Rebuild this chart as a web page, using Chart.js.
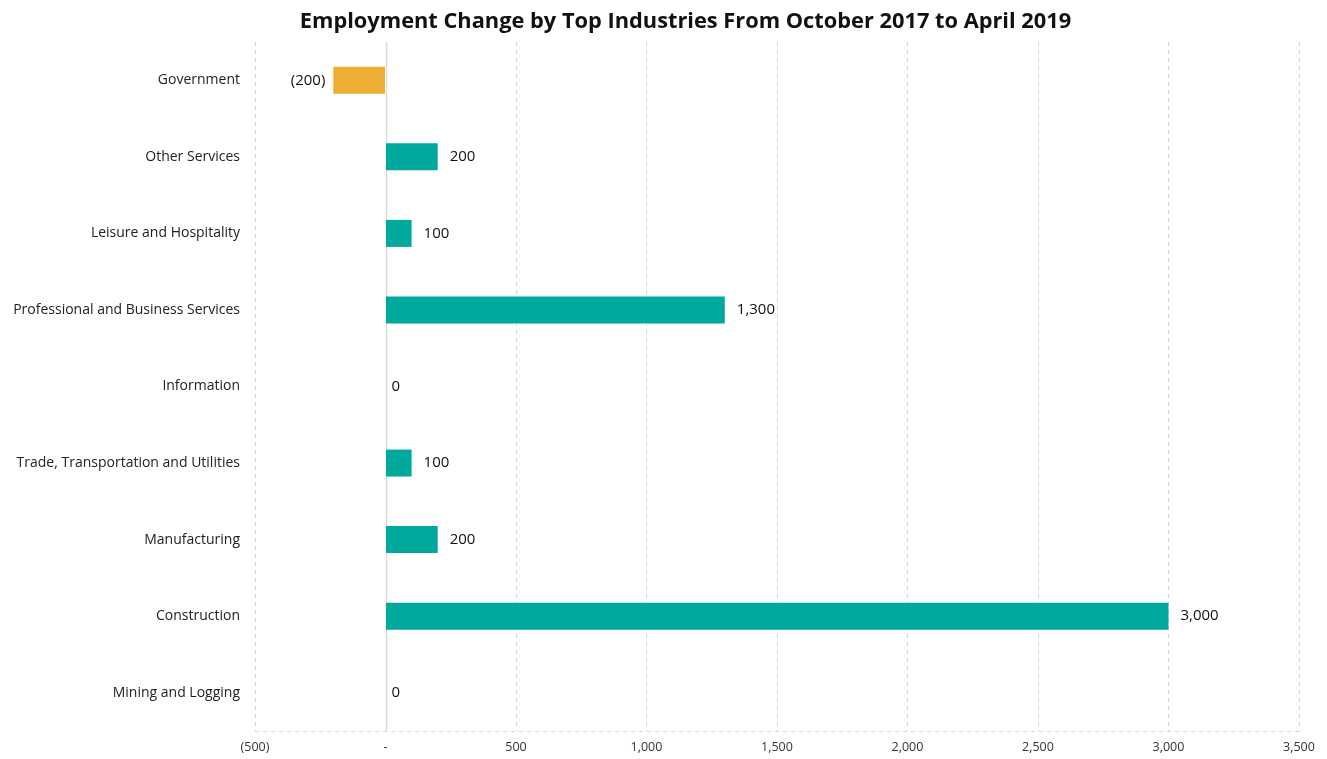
<!DOCTYPE html>
<html>
<head>
<meta charset="utf-8">
<script src="https://cdn.jsdelivr.net/npm/chart.js@4.4.1/dist/chart.umd.min.js"></script>
<style>
  html, body { margin: 0; padding: 0; background: #fff; }
  #wrap { position: relative; width: 1327px; height: 759px; }
  #title {
    position: absolute; left: 0; top: 5px; width: 1327px; height: 32px;
    box-sizing: border-box; padding-left: 44px;
    text-align: center; line-height: 32px;
    font: 700 21.8px "Open Sans", Lato, sans-serif; color: #111;
  }
</style>
</head>
<body>
<div id="wrap">
  <div id="title">Employment Change by Top Industries From October 2017 to April 2019</div>
  <canvas id="jobsChart" width="1327" height="759"></canvas>
</div>
<script>
const industries = [
  'Government',
  'Other Services',
  'Leisure and Hospitality',
  'Professional and Business Services',
  'Information',
  'Trade, Transportation and Utilities',
  'Manufacturing',
  'Construction',
  'Mining and Logging',
];
const jobChange = [-200, 200, 100, 1300, 0, 100, 200, 3000, 0];
const axisMin = -500;
const axisMax = 3500;
const axisStep = 500;

const TEAL = '#00a99e';
const GOLD = '#eead33';
const FONT = '"Open Sans", Lato, sans-serif';

function fmt(num) {
  return new Intl.NumberFormat('en-US').format(num);
}

// accounting style: (500), -, 1,000
function fmtAcct(v) {
  if (v === 0) return '-';
  if (v < 0) return `(${fmt(-v)})`;
  return fmt(v);
}

// solid line at zero + dashed baseline under the plot
const axisLines = {
  id: 'axisLines',
  beforeDatasetsDraw(chart) {
    const { ctx, chartArea, scales } = chart;
    const x = Math.round(scales.x.getPixelForValue(0)) + 0.5;
    const y = Math.round(chartArea.bottom) + 0.5;
    ctx.save();
    ctx.strokeStyle = '#dcdcdc';
    ctx.lineWidth = 1.5;
    ctx.beginPath();
    ctx.moveTo(x, chartArea.top);
    ctx.lineTo(x, chartArea.bottom);
    ctx.stroke();
    ctx.strokeStyle = '#d6d6d6';
    ctx.lineWidth = 1;
    ctx.setLineDash([4, 4]);
    ctx.beginPath();
    ctx.moveTo(chartArea.left, y);
    ctx.lineTo(chartArea.right, y);
    ctx.stroke();
    ctx.restore();
  }
};

// value labels next to each bar
const barLabels = {
  id: 'barLabels',
  afterDatasetsDraw(chart) {
    const { ctx } = chart;
    const meta = chart.getDatasetMeta(0);
    const zeroX = chart.scales.x.getPixelForValue(0);
    ctx.save();
    ctx.font = `15px ${FONT}`;
    ctx.fillStyle = '#111';
    ctx.textBaseline = 'middle';
    meta.data.forEach((bar, i) => {
      const v = jobChange[i];
      if (v < 0) {
        ctx.textAlign = 'right';
        ctx.fillText(fmtAcct(v), bar.x - 8, bar.y);
      } else if (v === 0) {
        ctx.textAlign = 'left';
        ctx.fillText('0', zeroX + 6, bar.y);
      } else {
        ctx.textAlign = 'left';
        ctx.fillText(fmt(v), bar.x + 12, bar.y);
      }
    });
    ctx.restore();
  }
};

const ctx = document.getElementById('jobsChart').getContext('2d');
new Chart(ctx, {
  type: 'bar',
  data: {
    labels: industries,
    datasets: [{
      data: jobChange,
      backgroundColor: jobChange.map(v => (v < 0 ? GOLD : TEAL)),
      barThickness: 27,
      borderWidth: 0,
      inflateAmount: 0,
    }]
  },
  options: {
    indexAxis: 'y',
    responsive: false,
    animation: false,
    layout: { padding: { left: 0, right: 28, top: 42, bottom: 0 } },
    scales: {
      x: {
        min: axisMin,
        max: axisMax,
        afterFit(scale) { scale.height = 28; },
        ticks: {
          stepSize: axisStep,
          padding: 9,
          color: '#333',
          font: { family: FONT, size: 12.5 },
          callback: v => fmtAcct(v),
        },
        grid: {
          drawTicks: false,
          color: c => (c.tick && c.tick.value === 0 ? 'rgba(0,0,0,0)' : '#d6d6d6'),
          lineWidth: 1,
        },
        border: { display: false, dash: [4, 4] },
      },
      y: {
        afterFit(scale) { scale.width = 255; },
        grid: { display: false, drawTicks: false },
        border: { display: false },
        ticks: {
          padding: 15,
          color: '#222',
          font: { family: FONT, size: 14 },
        },
      },
    },
    plugins: {
      legend: { display: false },
      tooltip: { enabled: false },
      title: { display: false },
    },
  },
  plugins: [axisLines, barLabels],
});
</script>
</body>
</html>
